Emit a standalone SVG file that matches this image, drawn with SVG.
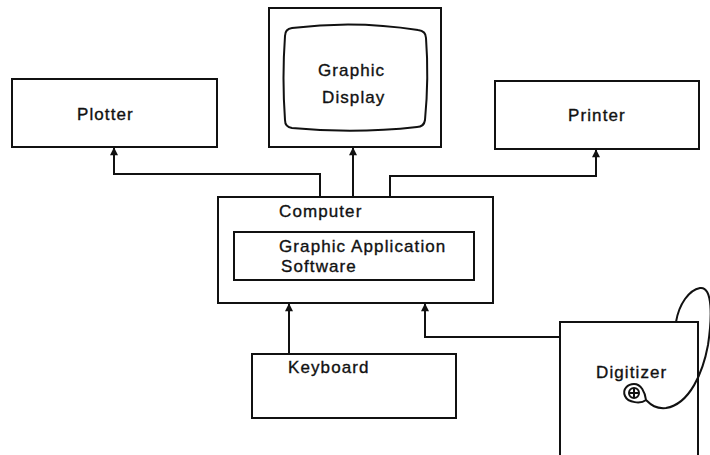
<svg xmlns="http://www.w3.org/2000/svg" width="710" height="455" viewBox="0 0 710 455">
<defs>
<style>
.box{fill:none;stroke:#111;stroke-width:2}
.ln{fill:none;stroke:#111;stroke-width:2}
.t{font-family:"Liberation Sans",Arial,sans-serif;font-size:17px;letter-spacing:1.1px;fill:#111;stroke:#111;stroke-width:0.35}
</style>
<marker id="arr" viewBox="0 0 10 10" refX="9" refY="5" markerWidth="11" markerHeight="8" markerUnits="userSpaceOnUse" orient="auto">
<path d="M0,0 L10,5 L0,10 Z" fill="#111"/>
</marker>
</defs>
<rect width="710" height="455" fill="#fff"/>
<g id="plotter">
<rect class="box" x="12" y="79" width="205" height="68"/>
<text class="t" x="77" y="120">Plotter</text>
</g>
<g id="display">
<rect class="box" x="269" y="8" width="172" height="139"/>
<path class="box" d="M292,28 Q355,20 418,30 Q426,31 426,38 Q429,78 425,120 Q424,127 417,127 Q355,134 292,128 Q285,127 285,120 Q282,78 285,36 Q285,29 292,28 Z"/>
<text class="t" x="318" y="76">Graphic</text>
<text class="t" x="322" y="103">Display</text>
</g>
<g id="printer">
<rect class="box" x="495" y="81" width="204" height="68"/>
<text class="t" x="568" y="121">Printer</text>
</g>
<g id="computer">
<rect class="box" x="218" y="197" width="275" height="106"/>
<text class="t" x="279" y="217">Computer</text>
<g id="software">
<rect class="box" x="234" y="232" width="240" height="48"/>
<text class="t" x="279" y="252">Graphic Application</text>
<text class="t" x="281" y="272">Software</text>
</g>
</g>
<g id="keyboard">
<rect class="box" x="252" y="354" width="204" height="64"/>
<text class="t" x="288" y="373">Keyboard</text>
</g>
<g id="digitizer">
<rect class="box" x="560" y="322" width="138" height="145"/>
<text class="t" x="596" y="378">Digitizer</text>
<path class="ln" d="M676,322 C679,304 689,290 700,288 C713,286 712,318 708,345 C703,372 690,404 666,408 C656,409 651,405 646,400"/>
<path class="ln" d="M646,400 C641,404 628,403 625,396 C622,389 628,384 634,384 C641,384 645,392 646,400 Z"/>
<circle class="ln" cx="634" cy="393" r="5" stroke-width="1.5"/>
<path class="ln" d="M629,393 H639 M634,388 V398" stroke-width="1.5"/>
</g>
<g id="connectors">
<path class="ln" d="M320,197 V174 H114 V148" marker-end="url(#arr)"/>
<path class="ln" d="M353,197 V148" marker-end="url(#arr)"/>
<path class="ln" d="M390,197 V176 H596 V150" marker-end="url(#arr)"/>
<path class="ln" d="M289,354 V304" marker-end="url(#arr)"/>
<path class="ln" d="M560,337 H425 V304" marker-end="url(#arr)"/>
</g>
</svg>
